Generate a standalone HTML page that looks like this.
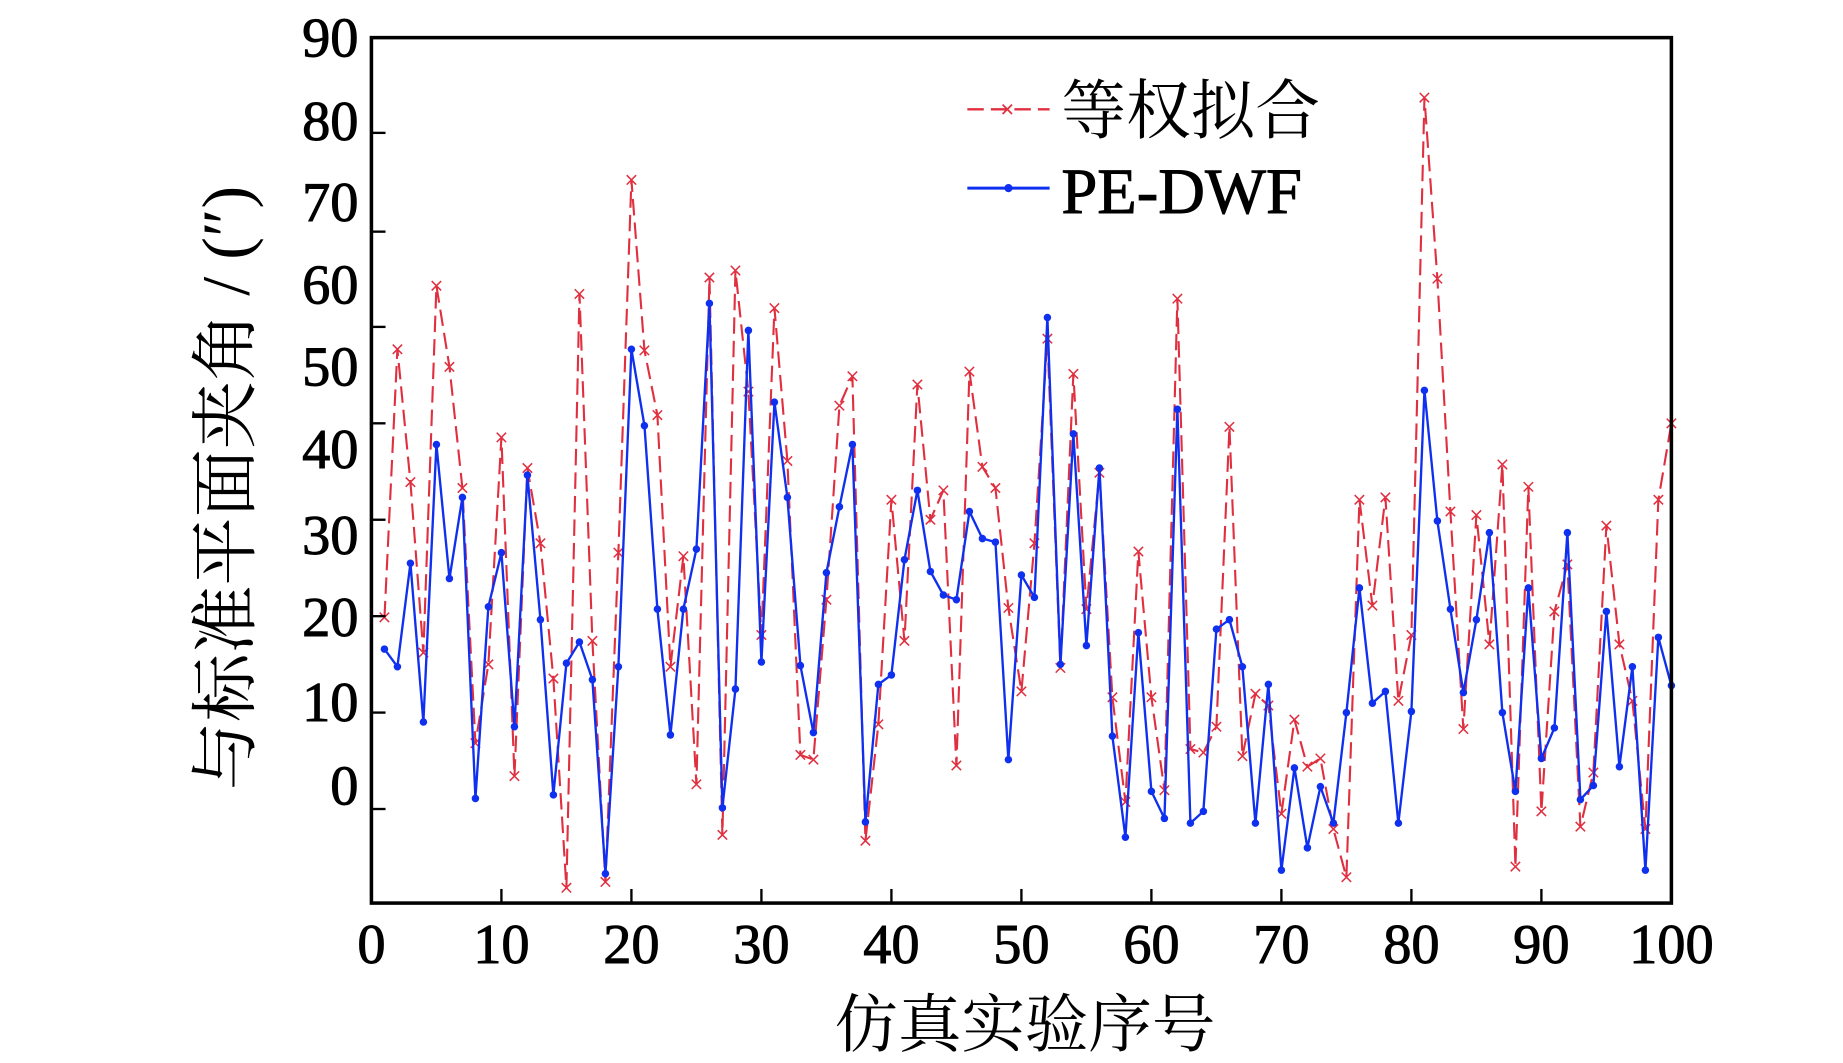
<!DOCTYPE html>
<html><head><meta charset="utf-8"><style>
html,body{margin:0;padding:0;background:#fff;}
svg{display:block;}
text{font-family:"Liberation Serif","Noto Serif CJK SC",serif;fill:#000;}
</style></head><body>
<svg id="s" width="1843" height="1063" viewBox="0 0 1568 904" preserveAspectRatio="none" xmlns="http://www.w3.org/2000/svg">
<rect x="0" y="0" width="1568" height="904" fill="#fff"/>
<g id="plot"></g>
<rect x="316" y="32" width="1106" height="736" fill="none" stroke="#000" stroke-width="3"/>
<g font-size="48" text-anchor="end" stroke="#000" stroke-width="0.8">
<text x="305" y="48">90</text><text x="305" y="119">80</text><text x="305" y="188">70</text>
<text x="305" y="258">60</text><text x="305" y="328">50</text><text x="305" y="398">40</text>
<text x="305" y="471">30</text><text x="305" y="541">20</text><text x="305" y="613">10</text>
<text x="305" y="684">0</text>
</g>
<g font-size="48" text-anchor="middle" id="xl" stroke="#000" stroke-width="0.8"></g>
<text x="872" y="890" font-size="54" text-anchor="middle">仿真实验序号</text>
<text transform="translate(212,415) rotate(-90)" font-size="58" text-anchor="middle">与标准平面夹角 / (″)</text>
<line x1="823" y1="93" x2="893" y2="93" stroke="#e03040" stroke-width="2" stroke-dasharray="14,6"/>
<path d="M853,89 l8,8 M861,89 l-8,8" stroke="#e03040" stroke-width="1.5"/>
<text x="903" y="113" font-size="55">等权拟合</text>
<line x1="823" y1="160" x2="893" y2="160" stroke="#1030f0" stroke-width="2.5"/>
<circle cx="858" cy="160" r="3.5" fill="#1030f0"/>
<text x="903" y="181" font-size="55" stroke="#000" stroke-width="0.8">PE-DWF</text>
</svg>
<script>
var R=[525,297,410,555,243,312,415,632,565,372,660,398,462,577,755,250,545,750,470,153,298,353,567,473,667,236,710,230,333,540,262,392,642,646,510,345,320,715,616,425,545,327,442,417,651,316,397,415,517,588,462,288,568,318,518,402,593,682,469,593,672,254,637,640,618,363,643,590,600,692,612,652,645,705,746,425,515,423,596,540,83,237,435,620,438,548,395,737,414,690,520,480,703,657,447,548,596,705,425,360];
var B=[552,567,479,614,378,492,423,679,516,470,618,404,527,676,564,546,578,743,567,297,362,518,625,518,467,258,687,586,281,563,342,423,566,623,487,431,378,699,582,574,476,417,486,506,510,435,458,461,646,489,508,270,565,369,549,398,626,712,538,673,696,348,700,690,535,527,567,700,582,740,653,721,669,700,606,500,598,588,700,605,332,443,518,589,527,453,606,673,500,645,619,453,680,668,520,652,567,740,542,583];
function X(i){return 316+i*11.06;}
var g=document.getElementById('plot'),h='';
var pr=R.map(function(y,i){return X(i+1).toFixed(1)+','+y}).join(' ');
var pb=B.map(function(y,i){return X(i+1).toFixed(1)+','+y}).join(' ');
h+='<polyline points="'+pr+'" fill="none" stroke="#e03040" stroke-width="1.8" stroke-dasharray="14,6"/>';
R.forEach(function(y,i){var x=X(i+1);h+='<path d="M'+(x-4)+','+(y-4)+' l8,8 M'+(x+4)+','+(y-4)+' l-8,8" stroke="#e03040" stroke-width="1.3"/>';});
h+='<polyline points="'+pb+'" fill="none" stroke="#1030f0" stroke-width="2"/>';
B.forEach(function(y,i){h+='<circle cx="'+X(i+1)+'" cy="'+y+'" r="3.2" fill="#1030f0"/>';});
[113,197,278,360,442,524,606,688].forEach(function(y){h+='<line x1="316" y1="'+y+'" x2="328" y2="'+y+'" stroke="#000" stroke-width="2"/>';});
for(var k=1;k<10;k++){var x=X(k*10);h+='<line x1="'+x+'" y1="768" x2="'+x+'" y2="756" stroke="#000" stroke-width="2"/>';}
g.innerHTML=h;
var xl='';for(var k=0;k<=10;k++){xl+='<text x="'+X(k*10)+'" y="819">'+(k*10)+'</text>';}
document.getElementById('xl').innerHTML=xl;
</script>
</body></html>
